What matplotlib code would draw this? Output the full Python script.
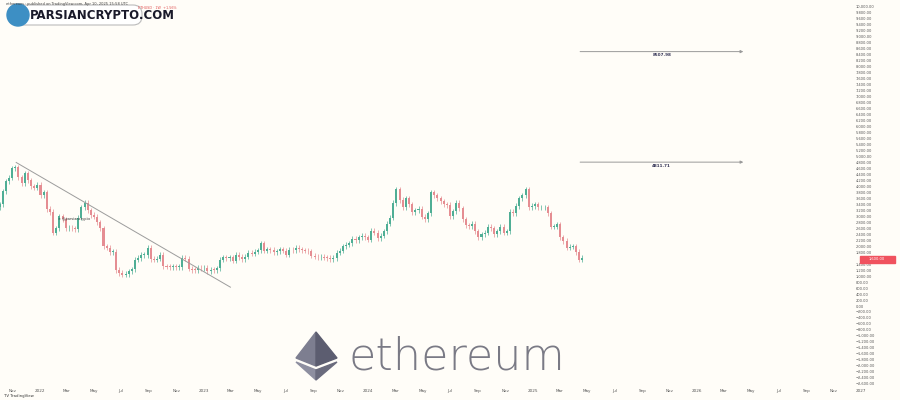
import datetime as dt
import numpy as np
import matplotlib
matplotlib.use("Agg")
import matplotlib.pyplot as plt
import matplotlib.dates as mdates
from matplotlib.patches import Polygon, FancyBboxPatch, Circle

# -- data: weekly ETH closes, Oct 2021 .. Apr 2025 --
start_week = dt.date(2021, 10, 4)
closes = [
    3400, 3830, 4170, 4290, 4600, 4640, 4300, 4100, 4440, 4200, 4000, 3960, 4050, 3700,
    3800, 3250, 3150, 2450, 2600, 3000, 2900, 2600, 2620, 2600, 2560, 2950, 3300, 3450,
    3200, 3050, 2990, 2800, 2600, 2000, 1950, 1800, 1800, 1200, 1100, 1050, 1070,
    1160, 1230, 1550, 1600, 1700, 1700, 1950, 1570, 1550, 1580, 1720, 1330, 1320, 1300,
    1320, 1300, 1310, 1600, 1580, 1250, 1210, 1200, 1280, 1260, 1280, 1170, 1220, 1200,
    1260, 1550, 1630, 1600, 1630, 1520, 1700, 1640, 1570, 1650, 1780, 1750, 1820,
    1860, 2100, 1850, 1900, 1870, 1800, 1830, 1900, 1850, 1720, 1880, 1860,
    1950, 1890, 1860, 1850, 1830, 1680, 1650, 1630, 1650, 1620, 1600,
    1560, 1600, 1780, 1850, 2000, 2050, 2100, 2250, 2200, 2300, 2350, 2300,
    2220, 2520, 2450, 2260, 2350, 2500, 2750, 2950, 3450, 3900, 3550, 3300, 3600,
    3400, 3150, 3200, 3250, 2990, 2900, 3100, 3800, 3700, 3600, 3500, 3400, 3380,
    3000, 3170, 3450, 3270, 2900, 2700, 2680, 2750, 2500, 2300, 2400, 2450, 2650, 2600,
    2400, 2500, 2650, 2450, 2500, 3150, 3100, 3350, 3600, 3700, 3900, 3300, 3350,
    3400, 3300, 3300, 3300, 3100, 2650, 2650, 2730, 2300, 2180, 1950, 1980, 2000, 1800,
    1550, 1600,
]
first_open = 3300
trend_points = [(dt.date(2021, 11, 10), 4800), (dt.date(2023, 3, 1), 630)]
levels = [8507.98, 4811.71]
level_span = (dt.date(2025, 4, 10), dt.date(2026, 4, 20))
last_price = 1600
month_labels = ["Nov", "2022", "Mar", "May", "Jul", "Sep", "Nov", "2023", "Mar", "May", "Jul", "Sep",
                "Nov", "2024", "Mar", "May", "Jul", "Sep", "Nov", "2025", "Mar", "May", "Jul", "Sep",
                "Nov", "2026", "Mar", "May", "Jul", "Sep", "Nov", "2027"]

bg = "#fffdf8"
up_col = "#4fae95"
down_col = "#e58d92"

fig = plt.figure(figsize=(9, 4), dpi=100, facecolor=bg)
ax = fig.add_axes([0, 14 / 400, 1, 386 / 400])
ax.set_facecolor(bg)
for s in ax.spines.values():
    s.set_visible(False)

xmin = mdates.date2num(dt.date(2021, 10, 5))
px_day = 0.45
ax.set_xlim(xmin, xmin + 900 / px_day)
ax.set_ylim(-2675, 10234)

dates = [start_week + dt.timedelta(weeks=i) for i in range(len(closes))]
x = mdates.date2num(dates)
opens = [first_open] + closes[:-1]
for xi, o, c in zip(x, opens, closes):
    col = up_col if c >= o else down_col
    lo, hi = min(o, c), max(o, c)
    ax.bar(xi, max(hi - lo, 25), bottom=lo, width=4.5, color=col, linewidth=0)
    ax.vlines(xi, lo - 90, hi + 90, color=col, linewidth=0.5)

tx = [mdates.date2num(p[0]) for p in trend_points]
ty = [p[1] for p in trend_points]
ax.plot(tx, ty, color="#9c9c9c", linewidth=0.7)

for lv in levels:
    x0, x1 = mdates.date2num(level_span[0]), mdates.date2num(level_span[1])
    ax.annotate("", xy=(x1, lv), xytext=(x0, lv),
                arrowprops=dict(arrowstyle="-|>", color="#9a9a9a", lw=0.7, mutation_scale=4))
    ax.text((x0 + x1) / 2, lv - 60, f"{lv:.2f}", fontsize=3, color="#333355",
            ha="center", va="top", fontweight="bold")

# x ticks (month labels)
tick_dates = []
for i in range(len(month_labels)):
    m = 11 + 2 * i
    tick_dates.append(dt.date(2021 + (m - 1) // 12, (m - 1) % 12 + 1, 1))
ax.set_xticks(mdates.date2num(tick_dates))
ax.set_xticklabels(month_labels, fontsize=3, color="#555555")
ax.tick_params(axis="x", length=0, pad=2)

# y ticks on right (the price tag covers the one at the last price)
yt = np.arange(-2600, 10001, 200)
yt = yt[yt != last_price]
ax.yaxis.tick_right()
ax.set_yticks(yt)
ax.set_yticklabels([f"{v:,.2f}".replace("-", "\u2212") for v in yt], fontsize=2.6, color="#555555")
ax.tick_params(axis="y", length=0, pad=-32)
for lab in ax.get_yticklabels():
    lab.set_ha("left")

ax.text(0.065, 0.43, "\u2715 @parsiancrypto", transform=ax.transAxes, fontsize=2.5, color="#333333")

# overlay in pixel space
ov = fig.add_axes([0, 0, 1, 1], facecolor="none")
ov.set_xlim(0, 900)
ov.set_ylim(400, 0)
ov.axis("off")

# price tag
ov.add_patch(FancyBboxPatch((860, 255.5), 35, 7, boxstyle="square,pad=0", color="#f0525e"))
ov.text(877, 259, "1,600.00", fontsize=2.6, color="white", ha="center", va="center")

# ethereum watermark
ov.add_patch(Polygon([(316, 332), (296, 358), (316, 366)], color="#7d7e90"))
ov.add_patch(Polygon([(316, 332), (337, 358), (316, 366)], color="#5c5d70"))
ov.add_patch(Polygon([(296, 362), (316, 380), (316, 370)], color="#8e8fa0"))
ov.add_patch(Polygon([(337, 362), (316, 380), (316, 370)], color="#6a6b7d"))
ov.text(349, 357, "ethereum", fontsize=32, color="#7a7a85", fontweight="light",
        family="DejaVu Sans", va="center", ha="left")

# header
ov.text(6, 4, "ethereum · published on TradingView.com, Apr 10, 2025 15:58 UTC", fontsize=2.6,
        color="#444444", va="center")
ov.text(138, 8, "ETHUSD · 1W  +1.56%", fontsize=2.4, color="#e05050", va="center")
ov.add_patch(FancyBboxPatch((10, 7), 130, 16, boxstyle="round,pad=2,rounding_size=9",
                            facecolor="white", edgecolor="#bbbbbb", linewidth=0.8))
ov.add_patch(Circle((18, 15), 11, color="#3d8fc4"))
ov.text(30, 15.5, "PARSIANCRYPTO.COM", fontsize=8.5, fontweight="bold", color="#1a1a2a", va="center")

ov.text(4, 396, "TV TradingView", fontsize=2.8, color="#333333", va="center")

fig.savefig("out.png", dpi=100, facecolor=bg)
